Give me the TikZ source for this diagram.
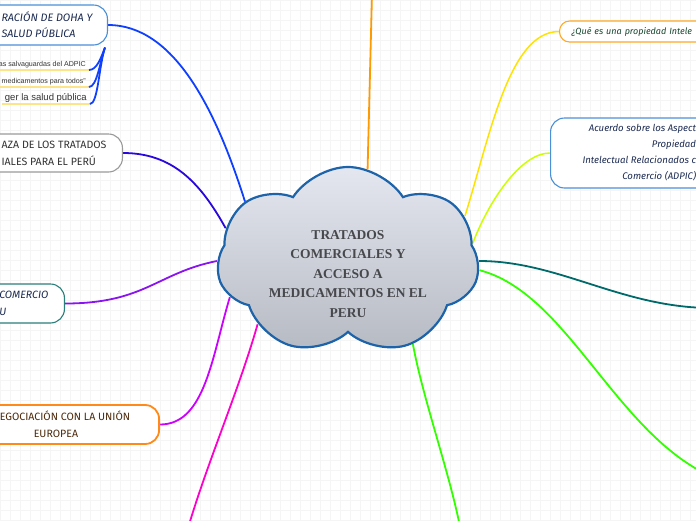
\documentclass[tikz,border=0pt]{standalone}
\usepackage{fontspec}
\setmainfont{Fira Sans}
\newfontfamily\rootfont{Liberation Serif}
\newfontfamily\itemfont{Liberation Sans}
\usetikzlibrary{shapes.symbols,backgrounds}

\definecolor{cloudtop}{HTML}{E4E7EF}
\definecolor{cloudbot}{HTML}{B6BAC3}
\definecolor{cloudline}{HTML}{1C63AA}
\definecolor{roottext}{HTML}{46484C}
\definecolor{gridcol}{HTML}{F5F5F5}
\definecolor{dohaline}{HTML}{4A90D9}
\definecolor{navytext}{HTML}{1C2B52}
\definecolor{greyline}{HTML}{9A9A9A}
\definecolor{tealline}{HTML}{2A7F7A}
\definecolor{orangeline}{HTML}{FF8A1A}
\definecolor{queline}{HTML}{FFA726}
\definecolor{browntext}{HTML}{4D2A0C}
\definecolor{greentext}{HTML}{17472E}
\definecolor{itemtext}{HTML}{333333}
\definecolor{itemline}{HTML}{FDE38A}
\definecolor{cblue}{HTML}{1040FF}
\definecolor{cindigo}{HTML}{2A08DC}
\definecolor{cpurple}{HTML}{8A14F0}
\definecolor{cviolet}{HTML}{CC00FF}
\definecolor{cmagenta}{HTML}{FF00CC}
\definecolor{corange}{HTML}{FF9900}
\definecolor{cyellow}{HTML}{FFE200}
\definecolor{cchart}{HTML}{CCFF00}
\definecolor{cteal}{HTML}{006A6B}
\definecolor{cgreen}{HTML}{33FF00}

\tikzset{
  topic/.style={draw, fill=white, rounded corners=14pt, line width=1.1pt, align=left,
    font=\fontsize{10.6}{17}\selectfont},
  branch/.style={line width=1.8pt},
  subitem/.style={font=\itemfont\fontsize{7.1}{8}\selectfont, text=itemtext,
    inner xsep=3pt, inner ysep=1.5pt, anchor=south east},
  underline/.style={line width=2.6pt, itemline},
  braceline/.style={line width=1.8pt, cblue},
}

\begin{document}
\begin{tikzpicture}[x=1pt,y=-1pt]
\useasboundingbox (0,0) rectangle (696,520);
%%% central idea
\node[cloud, cloud puffs=7, cloud puff arc=115, draw=cloudline, line width=2.2pt,
  top color=cloudtop, bottom color=cloudbot, minimum width=262pt, minimum height=188pt,
  inner sep=0pt] (root) at (348,261) {};
\node[font=\rootfont\bfseries\fontsize{13.5}{19.5}\selectfont, text=roottext, align=center]
  (rootlabel) at (348,274) {TRATADOS\\COMERCIALES Y\\ACCESO A\\MEDICAMENTOS EN EL\\PERU};
%%% topics on the left
\node[topic, draw=dohaline, text=navytext, font=\itshape\fontsize{10.8}{16}\selectfont,
  anchor=east, inner xsep=15pt, minimum height=40pt] (doha) at (108,25)
  {RACIÓN DE DOHA Y\\SALUD PÚBLICA};
\node[topic, draw=greyline, text=itemtext, anchor=east, inner xsep=16pt,
  minimum height=38pt] (amenaza) at (123,153)
  {AZA DE LOS TRATADOS\\IALES PARA EL PERÚ};
\node[topic, draw=tealline, text=navytext, font=\itshape\fontsize{10.6}{17}\selectfont,
  anchor=east, inner xsep=16pt, minimum height=39pt] (tlc) at (65,303.5)
  {COMERCIO\\U};
\node[topic, draw=orangeline, line width=1.8pt, text=browntext, anchor=east,
  inner xsep=29pt, minimum height=39pt] (ue) at (160,424.5)
  {EGOCIACIÓN CON LA UNIÓN\\\hspace*{34pt}EUROPEA};
%%% topics on the right
\node[topic, draw=queline, rounded corners=10pt, text=greentext,
  font=\itshape\fontsize{9}{11}\selectfont, anchor=west, inner xsep=12pt,
  text width=150pt, minimum height=21pt] (que) at (559,31.5) {¿Qué es una propiedad Intele};
\node[topic, draw=dohaline, text=navytext, font=\itshape\fontsize{9.6}{16}\selectfont,
  align=right, anchor=west, inner xsep=32pt, minimum height=70pt] (adpic) at (550,153)
  {Acuerdo sobre los Aspect\\Propiedad\hspace*{22pt}\\Intelectual Relacionados c\\Comercio (ADPIC)};
%%% ideas under DOHA
\node[subitem] (s1) at (89,70) {as salvaguardas del ADPIC};
\node[subitem] (s2) at (89,87) {medicamentos para todos”};
\node[subitem, font=\itemfont\fontsize{9.5}{11}\selectfont] (s3) at (90,104)
  {ger la salud pública};
\coordinate (dohafoot) at ([xshift=-3pt,yshift=-2pt]doha.south east);
%%% free ends outside the frame
\coordinate (topend) at (372,-6);
\coordinate (pinkend) at (186,535);
\coordinate (tealend) at (712,308);
\coordinate (greenend) at (702,472);
\coordinate (greendown) at (461,532);
\begin{pgfonlayer}{background}
\draw[gridcol, line width=0.6pt, step=10pt] (0,0) grid (696,520);
%Branches to the left topics
\draw[branch, cblue] (doha.east) .. controls +(65,0) and +(-30,-95) .. (root.150);
\draw[branch, cindigo] (amenaza.east) .. controls +(50,0) and +(-25,-45) .. (root.165);
\draw[branch, cpurple] (tlc.east) .. controls +(80,0) and +(-60,12) .. (root.180);
\draw[branch, cviolet] (ue.east) .. controls +(45,0) and +(-18,60) .. (root.197);
\draw[branch, cmagenta] (root.215) .. controls +(-20,70) and +(20,-70) .. (pinkend);
%Branches to the right topics
\draw[branch, corange] (root.78) -- (topend);
\draw[branch, line width=1.5pt, cyellow] (que.west) .. controls +(-50,0) and +(25,-80) .. (root.21);
\draw[branch, line width=1.5pt, cchart] (adpic.west) .. controls +(-30,0) and +(15,-40) .. (root.8);
\draw[branch, cteal] (root.0) .. controls +(80,0) and +(-90,0) .. (tealend);
\draw[branch, cgreen] (root.-4) .. controls +(85,22) and +(-90,-48) .. (greenend);
\draw[branch, cgreen] (root.-52) .. controls +(10,55) and +(-10,-55) .. (greendown);
\end{pgfonlayer}
%Underlines and braces of the ideas
\draw[underline] (s1.south west) -- (s1.south east);
\draw[underline] (s2.south west) -- (s2.south east);
\draw[underline] (s3.south west) -- (s3.south east);
\draw[braceline] (s1.south east) .. controls +(8,0) and +(-4,10) .. (dohafoot);
\draw[braceline] (s2.south east) .. controls +(8,0) and +(-5,14) .. (dohafoot);
\draw[braceline] (s3.south east) .. controls +(8,0) and +(-6,18) .. (dohafoot);
\end{tikzpicture}
\end{document}
